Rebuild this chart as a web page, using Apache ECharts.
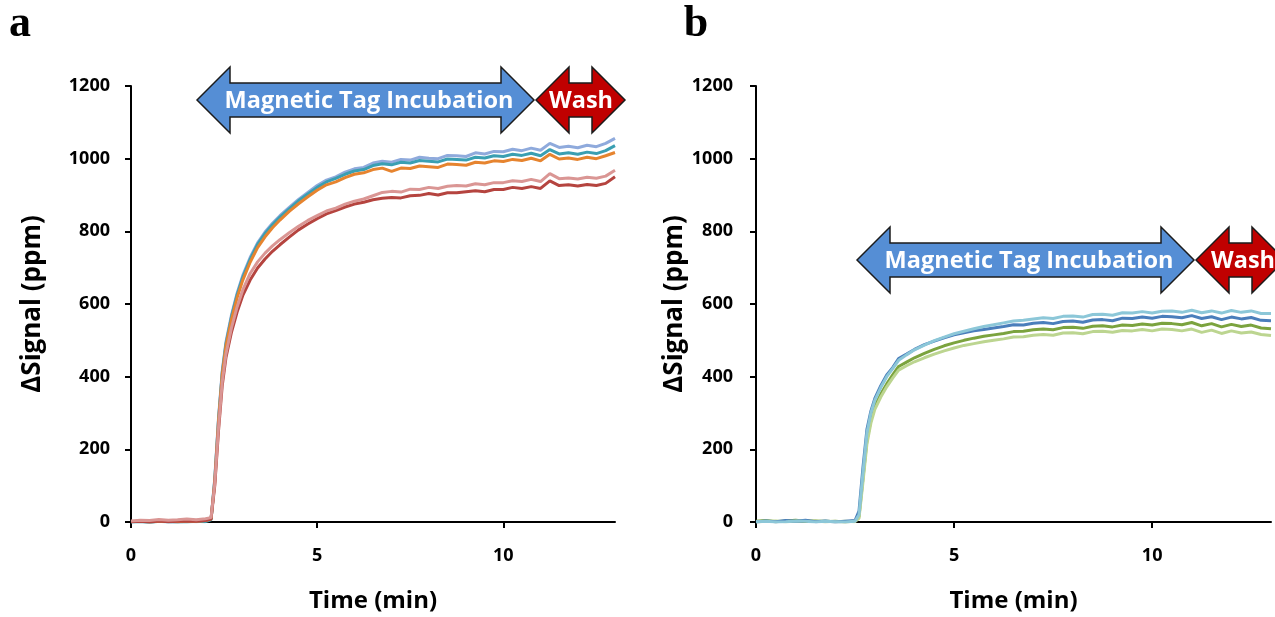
<!DOCTYPE html>
<html>
<head>
<meta charset="utf-8">
<script src="https://cdn.jsdelivr.net/npm/echarts@6/dist/echarts.min.js"></script>
<style>
html,body{margin:0;padding:0;background:#fff;}
#chart{width:1275px;height:617px;}
</style>
</head>
<body>
<div id="chart"></div>
<script>
// ---------- data ----------
const xTicks = [0, 5, 10];
const yTicks = [0, 200, 400, 600, 800, 1000, 1200];
const panelLabels = ['a', 'b'];
const incubationLabel = 'Magnetic Tag Incubation';
const washLabel = 'Wash';
const xName = 'Time (min)';
const yName = 'ΔSignal (ppm)';

// panel a time (min)
const timeA = [0,0.25,0.5,0.75,1,1.25,1.5,1.75,2.0,2.15,2.25,2.35,2.45,2.55,2.7,2.85,3.0,3.2,3.4,3.6,3.8,4.0,
  4.25,4.5,4.75,5.0,5.25,5.5,5.75,6.0,6.25,6.5,6.75,7.0,7.25,7.5,7.75,8.0,8.25,8.5,8.75,9.0,9.25,9.5,9.75,10.0,
  10.25,10.5,10.75,11.0,11.25,11.5,11.75,12.0,12.25,12.5,12.75,13.0];
const aLavender = [0,2,-1,3,1,0,2,1,3,8,120,285,415,495,570,630,678,728,768,798,822,843,
  866,888,907,926,941,950,963,972,976,988,993,990,998,996,1004,1001,1000,1009,1008,1006,1016,1013,1020,1019,
  1026,1022,1029,1023,1042,1031,1034,1030,1037,1033,1042,1056];
const aTeal = [0,1,-2,2,0,1,0,2,1,6,115,280,410,490,565,625,673,723,764,794,818,839,
  862,884,903,921,936,946,957,966,970,981,986,983,990,988,995,993,991,999,998,996,1004,1002,1008,1006,
  1012,1009,1015,1008,1025,1013,1016,1012,1018,1014,1022,1036];
const aOrange = [1,3,0,2,2,1,3,2,4,8,112,276,405,484,558,617,665,715,755,785,810,831,
  855,876,895,913,928,936,948,957,961,970,974,965,974,973,980,978,976,985,984,982,990,988,994,992,
  998,995,1001,994,1012,999,1002,998,1004,1000,1008,1017];
const aRed = [1,2,0,3,1,2,3,2,4,8,100,250,375,452,523,578,623,666,699,724,745,763,
  784,804,820,835,848,857,867,875,880,887,891,893,892,898,899,904,900,906,906,909,912,909,915,915,
  921,918,923,918,939,926,928,925,929,926,932,950];
const aPink = [3,5,4,7,5,6,8,6,9,12,105,260,385,462,535,592,638,684,716,740,760,777,
  796,814,830,843,856,864,875,883,889,898,907,910,908,916,915,921,918,924,926,925,931,928,934,934,
  939,937,943,937,959,945,947,944,949,946,952,968];

// panel b time (min)
const timeB = [0,0.25,0.5,0.75,1,1.25,1.5,1.75,2.0,2.25,2.5,2.6,2.7,2.8,2.9,3.0,3.15,3.3,3.45,3.6,3.8,4.0,
  4.25,4.5,4.75,5.0,5.25,5.5,5.75,6.0,6.25,6.5,6.75,7.0,7.25,7.5,7.75,8.0,8.25,8.5,8.75,9.0,9.25,9.5,9.75,10.0,
  10.25,10.5,10.75,11.0,11.25,11.5,11.75,12.0,12.25,12.5,12.75,13.0];
const bBlue = [0,3,1,4,2,5,1,3,0,2,4,30,150,255,305,340,375,405,425,450,462,475,
  488,498,507,515,521,526,530,534,538,543,542,547,549,546,552,553,550,556,557,554,561,560,564,561,
  566,565,562,568,560,565,557,564,559,563,555,554];
const bCyan = [1,2,0,1,3,2,0,2,1,0,2,20,135,245,300,335,370,400,422,445,460,474,
  487,499,509,518,525,532,538,543,548,553,555,559,562,560,566,567,564,571,572,569,576,575,579,575,
  580,581,577,583,576,581,575,582,577,581,574,574];
const bGreen = [2,4,1,3,5,2,3,1,2,0,3,15,120,225,280,318,352,380,405,428,440,452,
  464,475,485,493,500,506,511,515,519,524,525,529,531,529,535,536,533,539,540,537,542,541,545,542,
  547,546,543,549,540,546,537,544,538,542,534,532];
const bLightGreen = [0,2,3,1,2,4,2,3,1,2,1,10,110,215,272,310,344,372,396,418,430,441,
  452,462,471,479,486,491,496,500,504,509,510,514,516,514,520,521,518,524,525,522,527,526,530,526,
  531,530,526,531,522,528,519,526,520,523,516,513];

// ---------- chart ----------
const pairs = (t, v) => t.map((x, i) => [x, v[i]]);
const FONT = '"Open Sans", "Noto Sans", sans-serif';
const plain = (v) => String(v);

function xAxis(gridIndex) {
  return {
    type: 'value', gridIndex, min: 0, max: 13,
    name: xName, nameLocation: 'middle', nameGap: 67,
    nameTextStyle: { fontFamily: FONT, fontWeight: 'bold', fontSize: 24, color: '#000' },
    axisLine: { show: true, lineStyle: { color: '#000', width: 2 } },
    axisTick: { show: true, length: 6, lineStyle: { color: '#000', width: 2 }, customValues: xTicks },
    axisLabel: { fontFamily: FONT, fontWeight: 'bold', fontSize: 18, color: '#000', margin: 25, customValues: xTicks, formatter: plain },
    splitLine: { show: false }
  };
}
function yAxis(gridIndex, nameGap, labelMargin) {
  return {
    type: 'value', gridIndex, min: 0, max: 1200,
    name: yName, nameLocation: 'middle', nameGap,
    nameTextStyle: { fontFamily: FONT, fontWeight: 'bold', fontSize: 26, color: '#000' },
    axisLine: { show: true, lineStyle: { color: '#000', width: 2 } },
    axisTick: { show: true, length: 6, lineStyle: { color: '#000', width: 2 }, customValues: yTicks },
    axisLabel: { fontFamily: FONT, fontWeight: 'bold', fontSize: 18, color: '#000', margin: labelMargin, customValues: yTicks, formatter: plain },
    splitLine: { show: false }
  };
}
function line(name, xi, t, v, color) {
  return {
    name, type: 'line', xAxisIndex: xi, yAxisIndex: xi,
    data: pairs(t, v), showSymbol: false, symbol: 'none',
    lineStyle: { color, width: 3 }, itemStyle: { color },
    z: 3
  };
}
function dblArrow(x0, x1, cy, fill) {
  const hw = 33, hh = 33, sh = 17;
  return {
    type: 'polygon', z: 10,
    shape: { points: [
      [x0, cy], [x0 + hw, cy - hh], [x0 + hw, cy - sh], [x1 - hw, cy - sh], [x1 - hw, cy - hh],
      [x1, cy], [x1 - hw, cy + hh], [x1 - hw, cy + sh], [x0 + hw, cy + sh], [x0 + hw, cy + hh]
    ] },
    style: { fill, stroke: '#1b1b1b', lineWidth: 1.5 }
  };
}
function label(text, x, y, size) {
  return {
    type: 'text', z: 11, x, y,
    style: { text, fill: '#fff', font: 'bold ' + size + 'px ' + FONT, align: 'center', verticalAlign: 'middle' }
  };
}
function panelTitle(text, x) {
  return {
    type: 'text', z: 11, x, y: 25,
    style: { text, fill: '#000', font: 'bold 44px "Liberation Serif", "DejaVu Serif", serif', align: 'center', verticalAlign: 'middle' }
  };
}

const chart = echarts.init(document.getElementById('chart'), null, { renderer: 'canvas' });
chart.setOption({
  animation: false,
  backgroundColor: '#fff',
  grid: [
    { left: 131, top: 86, width: 484, height: 436, outerBoundsMode: 'none', containLabel: false },
    { left: 756, top: 86, width: 515, height: 436, outerBoundsMode: 'none', containLabel: false }
  ],
  xAxis: [xAxis(0), xAxis(1)],
  yAxis: [yAxis(0, 85, 21), yAxis(1, 58, 23)],
  series: [
    line('a1', 0, timeA, aLavender, '#8FAADC'),
    line('a2', 0, timeA, aTeal, '#3A9FB2'),
    line('a3', 0, timeA, aOrange, '#E6842F'),
    line('a5', 0, timeA, aRed, '#B5443F'),
    line('a4', 0, timeA, aPink, '#DA9694'),
    line('b3', 1, timeB, bGreen, '#7BA33E'),
    line('b4', 1, timeB, bLightGreen, '#BCD590'),
    line('b1', 1, timeB, bBlue, '#4A7EBB'),
    line('b2', 1, timeB, bCyan, '#8CC7D8')
  ],
  graphic: [
    panelTitle(panelLabels[0], 20),
    panelTitle(panelLabels[1], 696),
    dblArrow(197, 534, 100, '#558ED5'),
    dblArrow(536, 625, 100, '#C00000'),
    label(incubationLabel, 369, 101, 23.5),
    label(washLabel, 581, 101, 23.5),
    dblArrow(857, 1194, 260, '#558ED5'),
    dblArrow(1196, 1285, 260, '#C00000'),
    label(incubationLabel, 1029, 261, 23.5),
    label(washLabel, 1243, 261, 23.5)
  ]
});
</script>
</body>
</html>
